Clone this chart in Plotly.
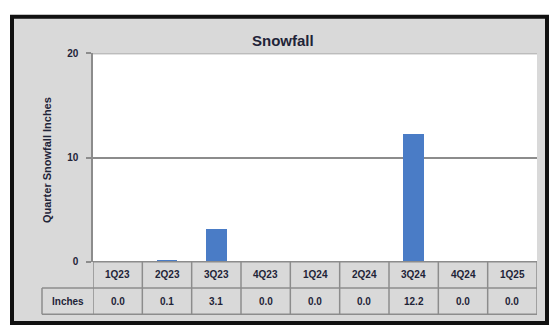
import plotly.graph_objects as go

# Quarterly snowfall totals (inches)
quarters = ["1Q23", "2Q23", "3Q23", "4Q23", "1Q24", "2Q24", "3Q24", "4Q24", "1Q25"]
inches = [0.0, 0.1, 3.1, 0.0, 0.0, 0.0, 12.2, 0.0, 0.0]
row_label = "Inches"
chart_title = "Snowfall"
y_title = "Quarter Snowfall Inches"
y_ticks = [0, 10, 20]

W, H = 551, 325
BG = "#d9d9d9"
GRID = "#8c8c8c"
TXT = "#1f2438"
FONT = "Liberation Sans"


def px(x):
    return x / W


def py(y):
    return (H - y) / H


plot_left, plot_right, plot_top, plot_bottom = 93, 537, 50, 265
row1_bottom, row2_bottom = 292, 319
label_left = 42

n = len(quarters)
xs = list(range(n))

fig = go.Figure()
fig.add_trace(go.Bar(
    x=xs, y=inches, width=0.42,
    marker=dict(color="#4a7cc6", line=dict(width=0)),
    hoverinfo="skip",
))

shapes = []
# outer chart frame
shapes.append(dict(type="rect", xref="paper", yref="paper",
                   x0=px(12), x1=px(547), y0=py(328), y1=py(12),
                   line=dict(color="#111111", width=4), fillcolor=BG, layer="below"))
# white plot area
shapes.append(dict(type="rect", xref="paper", yref="paper",
                   x0=px(plot_left), x1=px(plot_right), y0=py(plot_bottom), y1=py(plot_top),
                   line=dict(width=0), fillcolor="white", layer="below"))

line_style = dict(color=GRID, width=1.5)
# top gridline of the value axis
shapes.append(dict(type="line", xref="x", yref="y", x0=-0.5, x1=n - 0.5,
                   y0=y_ticks[-1], y1=y_ticks[-1], line=line_style))
# table horizontal lines
shapes.append(dict(type="line", xref="x", yref="paper", x0=-0.5, x1=n - 0.5,
                   y0=py(plot_bottom), y1=py(plot_bottom), line=line_style))
shapes.append(dict(type="line", xref="paper", yref="paper", x0=px(label_left), x1=px(plot_right),
                   y0=py(row1_bottom), y1=py(row1_bottom), line=line_style))
shapes.append(dict(type="line", xref="paper", yref="paper", x0=px(label_left), x1=px(plot_right),
                   y0=py(row2_bottom), y1=py(row2_bottom), line=line_style))
# table vertical lines
for i in range(n + 1):
    shapes.append(dict(type="line", xref="x", yref="paper", x0=i - 0.5, x1=i - 0.5,
                       y0=py(row2_bottom), y1=py(plot_bottom), line=line_style))
shapes.append(dict(type="line", xref="paper", yref="paper", x0=px(label_left), x1=px(label_left),
                   y0=py(row2_bottom), y1=py(row1_bottom), line=line_style))

annotations = []
cell_font = dict(family=FONT, size=10, color=TXT)
centered = dict(showarrow=False, xanchor="center", yanchor="middle")
for i, (q, v) in enumerate(zip(quarters, inches)):
    annotations.append(dict(x=i, y=py((plot_bottom + row1_bottom) / 2), xref="x", yref="paper",
                            text=f"<b>{q}</b>", font=cell_font, **centered))
    annotations.append(dict(x=i, y=py((row1_bottom + row2_bottom) / 2), xref="x", yref="paper",
                            text=f"<b>{v:.1f}</b>", font=cell_font, **centered))
annotations.append(dict(x=px((label_left + plot_left) / 2), y=py((row1_bottom + row2_bottom) / 2),
                        xref="paper", yref="paper", text=f"<b>{row_label}</b>",
                        font=cell_font, **centered))
annotations.append(dict(x=px(283), y=py(37), xref="paper", yref="paper",
                        text=f"<b>{chart_title}</b>",
                        font=dict(family=FONT, size=15, color=TXT), **centered))
annotations.append(dict(x=px(47), y=py(160), xref="paper", yref="paper",
                        text=f"<b>{y_title}</b>", textangle=-90,
                        font=dict(family=FONT, size=11, color=TXT), **centered))

fig.update_layout(
    width=W, height=H,
    margin=dict(l=0, r=0, t=0, b=0),
    paper_bgcolor="white", plot_bgcolor="rgba(0,0,0,0)",
    showlegend=False,
    bargap=0,
    xaxis=dict(domain=[px(plot_left), px(plot_right)], range=[-0.5, n - 0.5],
               showticklabels=False, showgrid=False, zeroline=False, fixedrange=True),
    yaxis=dict(domain=[py(plot_bottom), py(plot_top)], range=[0, 20],
               tickvals=y_ticks, ticktext=[f"<b>{t}</b>" for t in y_ticks],
               ticks="outside", ticklen=5, tickcolor=GRID, tickwidth=1.5,
               ticklabelstandoff=6,
               showline=True, linecolor=GRID, linewidth=1.5,
               showgrid=True, gridcolor=GRID, gridwidth=1.5, zeroline=False,
               tickfont=dict(family=FONT, size=10, color=TXT), fixedrange=True),
    shapes=shapes,
    annotations=annotations,
)

fig.write_html("out.html")
